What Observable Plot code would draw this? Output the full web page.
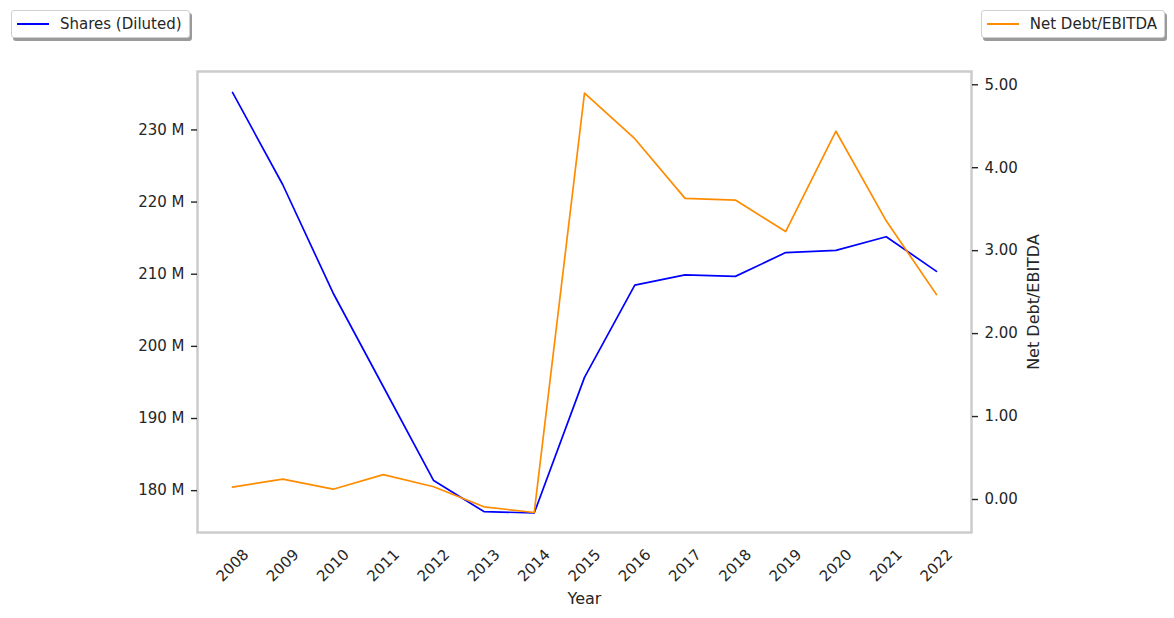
<!DOCTYPE html>
<html>
<head>
<meta charset="utf-8">
<script src="https://cdn.jsdelivr.net/npm/d3@7"></script>
<script src="https://cdn.jsdelivr.net/npm/@observablehq/plot@0.6"></script>
<style>
  html, body { margin: 0; padding: 0; background: white; }
  #wrap { position: relative; width: 1174px; height: 618px; font-family: "DejaVu Sans", sans-serif; color: #262626; }
  .legend { position: absolute; top: 10px; height: 28px; box-sizing: border-box; background: white;
            border: 1px solid #d0d0d0; border-radius: 3px; box-shadow: 2px 3px 0 #9a9a9a;
            display: flex; align-items: center; font-size: 15px; padding: 0 7px 0 5px; white-space: nowrap; }
  .legend .sw { width: 32px; height: 0; border-top: 2px solid; margin-right: 11px; }
</style>
</head>
<body>
<div id="wrap"></div>
<script>
const years = [2008, 2009, 2010, 2011, 2012, 2013, 2014, 2015, 2016, 2017, 2018, 2019, 2020, 2021, 2022];
const sharesDilutedM = [235.2, 222.4, 207.4, 194.4, 181.4, 177.1, 176.9, 195.7, 208.5, 209.9, 209.7, 213.0, 213.3, 215.2, 210.4];
const netDebtEbitda = [0.15, 0.245, 0.124, 0.30, 0.153, -0.088, -0.157, 4.90, 4.35, 3.63, 3.61, 3.23, 4.44, 3.36, 2.47];
const leftTicks = [180, 190, 200, 210, 220, 230];
const rightTicks = [0, 1, 2, 3, 4, 5];
const leftDomain = [174.2, 238.1];
const rightDomain = [-0.398, 5.16];
const seriesNames = ["Shares (Diluted)", "Net Debt/EBITDA"];
const seriesColors = ["#0000ff", "#ff8c00"];

const toLeft = r => leftDomain[0] + (r - rightDomain[0]) / (rightDomain[1] - rightDomain[0]) * (leftDomain[1] - leftDomain[0]);
const fromLeft = l => rightDomain[0] + (l - leftDomain[0]) / (leftDomain[1] - leftDomain[0]) * (rightDomain[1] - rightDomain[0]);

const sharesData = years.map((y, i) => ({year: y, v: sharesDilutedM[i]}));
const ndData = years.map((y, i) => ({year: y, v: toLeft(netDebtEbitda[i])}));

const chart = Plot.plot({
  width: 1174,
  height: 618,
  marginLeft: 197,
  marginRight: 203,
  marginTop: 71,
  marginBottom: 86,
  style: {fontFamily: "DejaVu Sans, sans-serif", fontSize: "15px", color: "#262626", background: "white"},
  x: {type: "point", domain: years, padding: 0.696, round: false, axis: null},
  y: {domain: leftDomain, axis: null},
  marks: [
    Plot.frame({stroke: "#cccccc", strokeWidth: 2.5}),
    Plot.axisY({anchor: "left", ticks: leftTicks, tickFormat: d => `${d} M`, tickSize: 6, tickPadding: 7, label: null, strokeWidth: 1.4}),
    Plot.axisY({anchor: "right", ticks: rightTicks.map(toLeft), tickFormat: d => Math.abs(Math.round(fromLeft(d) * 100) / 100).toFixed(2), tickSize: 6, tickPadding: 7, label: null, strokeWidth: 1.4}),
    Plot.text(years, {x: d => d, frameAnchor: "bottom", dy: 33, rotate: -45, text: d => String(d), textAnchor: "middle", lineAnchor: "middle"}),
    Plot.text(["Year"], {frameAnchor: "bottom", dy: 66, text: d => d, fontSize: 16, lineAnchor: "middle"}),
    Plot.text(["Net Debt/EBITDA"], {frameAnchor: "right", dx: 62, rotate: -90, text: d => d, fontSize: 16, textAnchor: "middle", lineAnchor: "middle"}),
    Plot.line(sharesData, {x: "year", y: "v", stroke: seriesColors[0], strokeWidth: 1.7}),
    Plot.line(ndData, {x: "year", y: "v", stroke: seriesColors[1], strokeWidth: 1.7})
  ]
});

const wrap = document.getElementById("wrap");
wrap.appendChild(chart);

function addLegend(name, color, pos) {
  const d = document.createElement("div");
  d.className = "legend";
  Object.assign(d.style, pos);
  const sw = document.createElement("span");
  sw.className = "sw";
  sw.style.borderTopColor = color;
  d.appendChild(sw);
  const t = document.createElement("span");
  t.textContent = name;
  d.appendChild(t);
  wrap.appendChild(d);
}
addLegend(seriesNames[0], seriesColors[0], {left: "11px"});
addLegend(seriesNames[1], seriesColors[1], {right: "9px"});
</script>
</body>
</html>
